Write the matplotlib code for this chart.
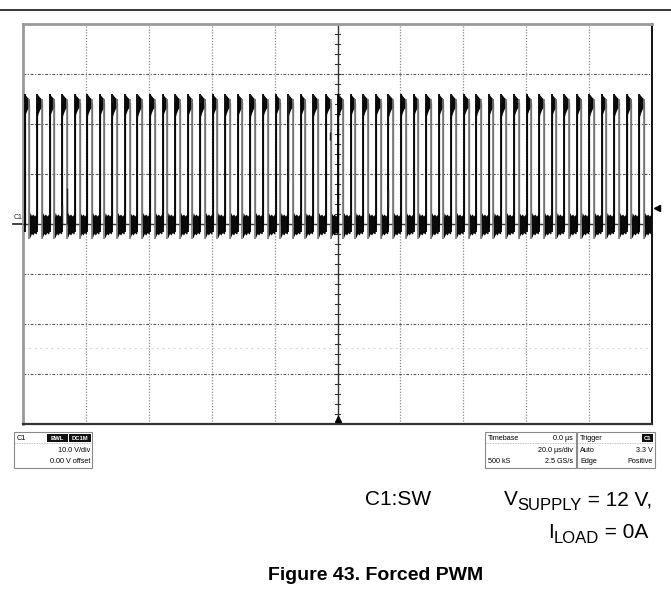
import numpy as np
import matplotlib
matplotlib.use("Agg")
import matplotlib.pyplot as plt
from matplotlib.patches import Rectangle

plt.rcParams['font.family'] = ['Liberation Sans', 'DejaVu Sans']

# ---------------- data (read from the scope capture) ----------------
rise_times_us = [-99.5, -95.5, -91.5, -87.5, -83.5, -79.6, -75.6, -71.6, -67.6, -63.6,
                 -59.6, -55.6, -51.6, -47.6, -43.6, -39.7, -35.7, -31.7, -27.7, -23.7,
                 -19.7, -15.7, -11.7, -7.7, -3.7, 0.3, 4.2, 8.2, 12.2, 16.2,
                 20.2, 24.2, 28.2, 32.2, 36.2, 40.2, 44.1, 48.1, 52.1, 56.1,
                 60.1, 64.1, 68.1, 72.1, 76.1, 80.1, 84.0, 88.0, 92.0, 96.0]
high_time_us = 1.48
high_level_v = 24.2
low_level_v = 0.0
trigger_level_v = 3.3
# ringing envelope on the high plateau (fraction of high time, upper V, lower V)
flag_frac = [0.0, 0.25, 0.6, 1.0]
flag_upper = [26.0, 25.7, 25.3, 25.0]
flag_lower = [21.4, 22.2, 23.0, 23.4]
# ringing envelope on the low level (fraction of low time, upper V, lower V)
blob_frac = [0.0, 0.1, 0.3, 0.5, 0.7, 0.9, 1.0]
blob_upper = [1.2, 2.3, 1.7, 2.0, 1.6, 1.9, 2.2]
blob_lower = [-2.8, -2.6, -1.9, -2.2, -1.7, -2.0, -1.8]
# stray partial traces (time us, from V, to V)
glitch_t = [-86.1, -87.6, -15.7, 16.0, -2.3]
glitch_lo = [0.0, 0.0, 8.4, 3.4, 16.8]
glitch_hi = [7.2, 3.8, 25.8, 6.8, 18.4]

x_div = 20.0   # us/div
y_div = 10.0   # V/div

# ---------------- figure ----------------
W, H = 671, 594
fig = plt.figure(figsize=(W / 100, H / 100), dpi=100)

ov = fig.add_axes([0, 0, 1, 1])
ov.set_xlim(0, W)
ov.set_ylim(H, 0)
ov.axis('off')

L, R, T, B = 23, 652, 24, 424
ax = fig.add_axes([L / W, 1 - B / H, (R - L) / W, (B - T) / H])
ax.set_xlim(-100, 100)
ax.set_ylim(-40, 40)
ax.set_xticks([])
ax.set_yticks([])
ax.spines['top'].set_color('#9a9a9a'); ax.spines['top'].set_linewidth(2)
ax.spines['left'].set_color('#9a9a9a'); ax.spines['left'].set_linewidth(2)
ax.spines['right'].set_color('#111111'); ax.spines['right'].set_linewidth(1.4)
ax.spines['bottom'].set_color('#333333'); ax.spines['bottom'].set_linewidth(1.6)

for gx in np.arange(-80, 81, x_div):
    if abs(gx) > 1e-9:
        ax.axvline(gx, color='#8a8a8a', lw=0.9, ls=(0, (1, 1.3)), zorder=1)
for gy in np.arange(-30, 31, y_div):
    if abs(gy) > 1e-9:
        ax.axhline(gy, color='#555555', lw=0.8, ls=(0, (2.5, 1.5, 1, 1.5)), zorder=1)
ax.axhline(-24.8, color='#d8d8d8', lw=0.8, ls=(0, (2, 3)), zorder=0.5)
ax.axvline(0, color='#333333', lw=1.0, zorder=1)
ax.axhline(0, color='#333333', lw=1.0, zorder=1)
for ty in np.arange(-38, 39, 2):
    ax.plot([-0.7, 0.7], [ty, ty], color='#333333', lw=0.8, zorder=1)
for tx in np.arange(-96, 97, 4):
    ax.plot([tx, tx], [-0.5, 0.5], color='#333333', lw=0.8, zorder=1)

# waveform
period_end = rise_times_us[1:] + [100.0]
xs, ys = [-100.0], [low_level_v]
for r in rise_times_us:
    f = r + high_time_us
    xs += [r, r, f, f]
    ys += [low_level_v, high_level_v, high_level_v, low_level_v]
xs.append(100.0); ys.append(low_level_v)
ax.plot(xs, ys, color='#555555', lw=0.9, zorder=3)

for r, nxt in zip(rise_times_us, period_end):
    f = r + high_time_us
    fx = r + high_time_us * np.array(flag_frac)
    ax.fill_between(fx, flag_lower, flag_upper, color='#0a0a0a', lw=0, zorder=4)
    bx = f + (min(nxt, 100.0) - 0.2 - f) * np.array(blob_frac)
    ax.fill_between(bx, blob_lower, blob_upper, color='#0a0a0a', lw=0, zorder=4)
ax.vlines(rise_times_us, -1.5, 26.0, color='#000000', lw=1.3, zorder=5)
ax.vlines([r + high_time_us for r in rise_times_us], -3.0, 25.0, color='#7a7a7a', lw=1.2, zorder=5)
ax.vlines(glitch_t, glitch_lo, glitch_hi, color='#222222', lw=1.0, zorder=5)

ax.plot([0], [-39.0], marker='^', ms=4.5, color='black', clip_on=False, zorder=6)
ax.plot([101.7], [trigger_level_v], marker='<', ms=4.5, color='black', clip_on=False, zorder=6)

ov.text(18, 219, 'C1', fontsize=5, ha='center', va='baseline', color='#222')
ov.plot([13, 23], [224, 224], color='#222', lw=1.2)

ov.text(650, 37, 'LeCroy', fontsize=7.5, ha='right', va='baseline', color='#444')
ov.plot([609, 650], [40, 40], color='#8a8a8a', lw=1.4)

ov.plot([0, W], [10, 10], color='black', lw=1.1)

def box(x0, x1, y0, y1):
    ov.add_patch(Rectangle((x0, y0), x1 - x0, y1 - y0, fill=False, ec='#8a8a8a', lw=0.8))
    ov.plot([x0 + 1, x1 - 1], [y0 + 11, y0 + 11], color='#aaaaaa', lw=0.6, ls=(0, (1, 1)))

def tag(x0, x1, y0, y1, s):
    ov.add_patch(Rectangle((x0, y0), x1 - x0, y1 - y0, fc='#111', ec='none'))
    ov.text((x0 + x1) / 2, (y0 + y1) / 2 + 0.5, s, fontsize=4.2, color='white',
            ha='center', va='center', weight='bold')

fs = 5.2
box(14, 92, 432, 468)
ov.text(17, 440, 'C1', fontsize=fs, va='baseline')
tag(47, 68, 434, 442, 'BWL')
tag(69, 91, 434, 442, 'DC1M')
ov.text(90, 452, '10.0 V/div', fontsize=fs, ha='right', va='baseline')
ov.text(90, 463, '0.00 V offset', fontsize=fs, ha='right', va='baseline')

box(485, 576, 432, 468)
ov.text(488, 440, 'Timebase', fontsize=fs, va='baseline')
ov.text(573, 440, '0.0 µs', fontsize=fs, ha='right', va='baseline')
ov.text(573, 452, '20.0 µs/div', fontsize=fs, ha='right', va='baseline')
ov.text(488, 463, '500 kS', fontsize=fs, va='baseline')
ov.text(573, 463, '2.5 GS/s', fontsize=fs, ha='right', va='baseline')

box(577, 655, 432, 468)
ov.text(580, 440, 'Trigger', fontsize=fs, va='baseline')
tag(642, 653, 434, 442, 'C1')
ov.text(580, 452, 'Auto', fontsize=fs, va='baseline')
ov.text(653, 452, '3.3 V', fontsize=fs, ha='right', va='baseline')
ov.text(580, 463, 'Edge', fontsize=fs, va='baseline')
ov.text(653, 463, 'Positive', fontsize=fs, ha='right', va='baseline')

# annotations (subscripts composed right-to-left)
renderer = fig.canvas.get_renderer()
big, small = 15, 12

def compose_right(x_right, y_base, parts):
    x = x_right
    for s, size, dy in reversed(parts):
        t = ov.text(x, y_base + dy, s, fontsize=size, ha='right', va='baseline')
        bb = t.get_window_extent(renderer)
        x -= bb.width  # pixel units equal data units here

ov.text(365, 505, 'C1:SW', fontsize=big, va='baseline')
compose_right(652, 505, [('V', big, 0), ('SUPPLY', small, 5), (' = 12 V,', big, 0)])
compose_right(648, 538, [('I', big, 0), ('LOAD', small, 5), (' = 0A', big, 0)])
ov.text(376, 580, 'Figure 43. Forced PWM', fontsize=14, weight='bold', ha='center', va='baseline')

fig.savefig('out.png', dpi=100)
